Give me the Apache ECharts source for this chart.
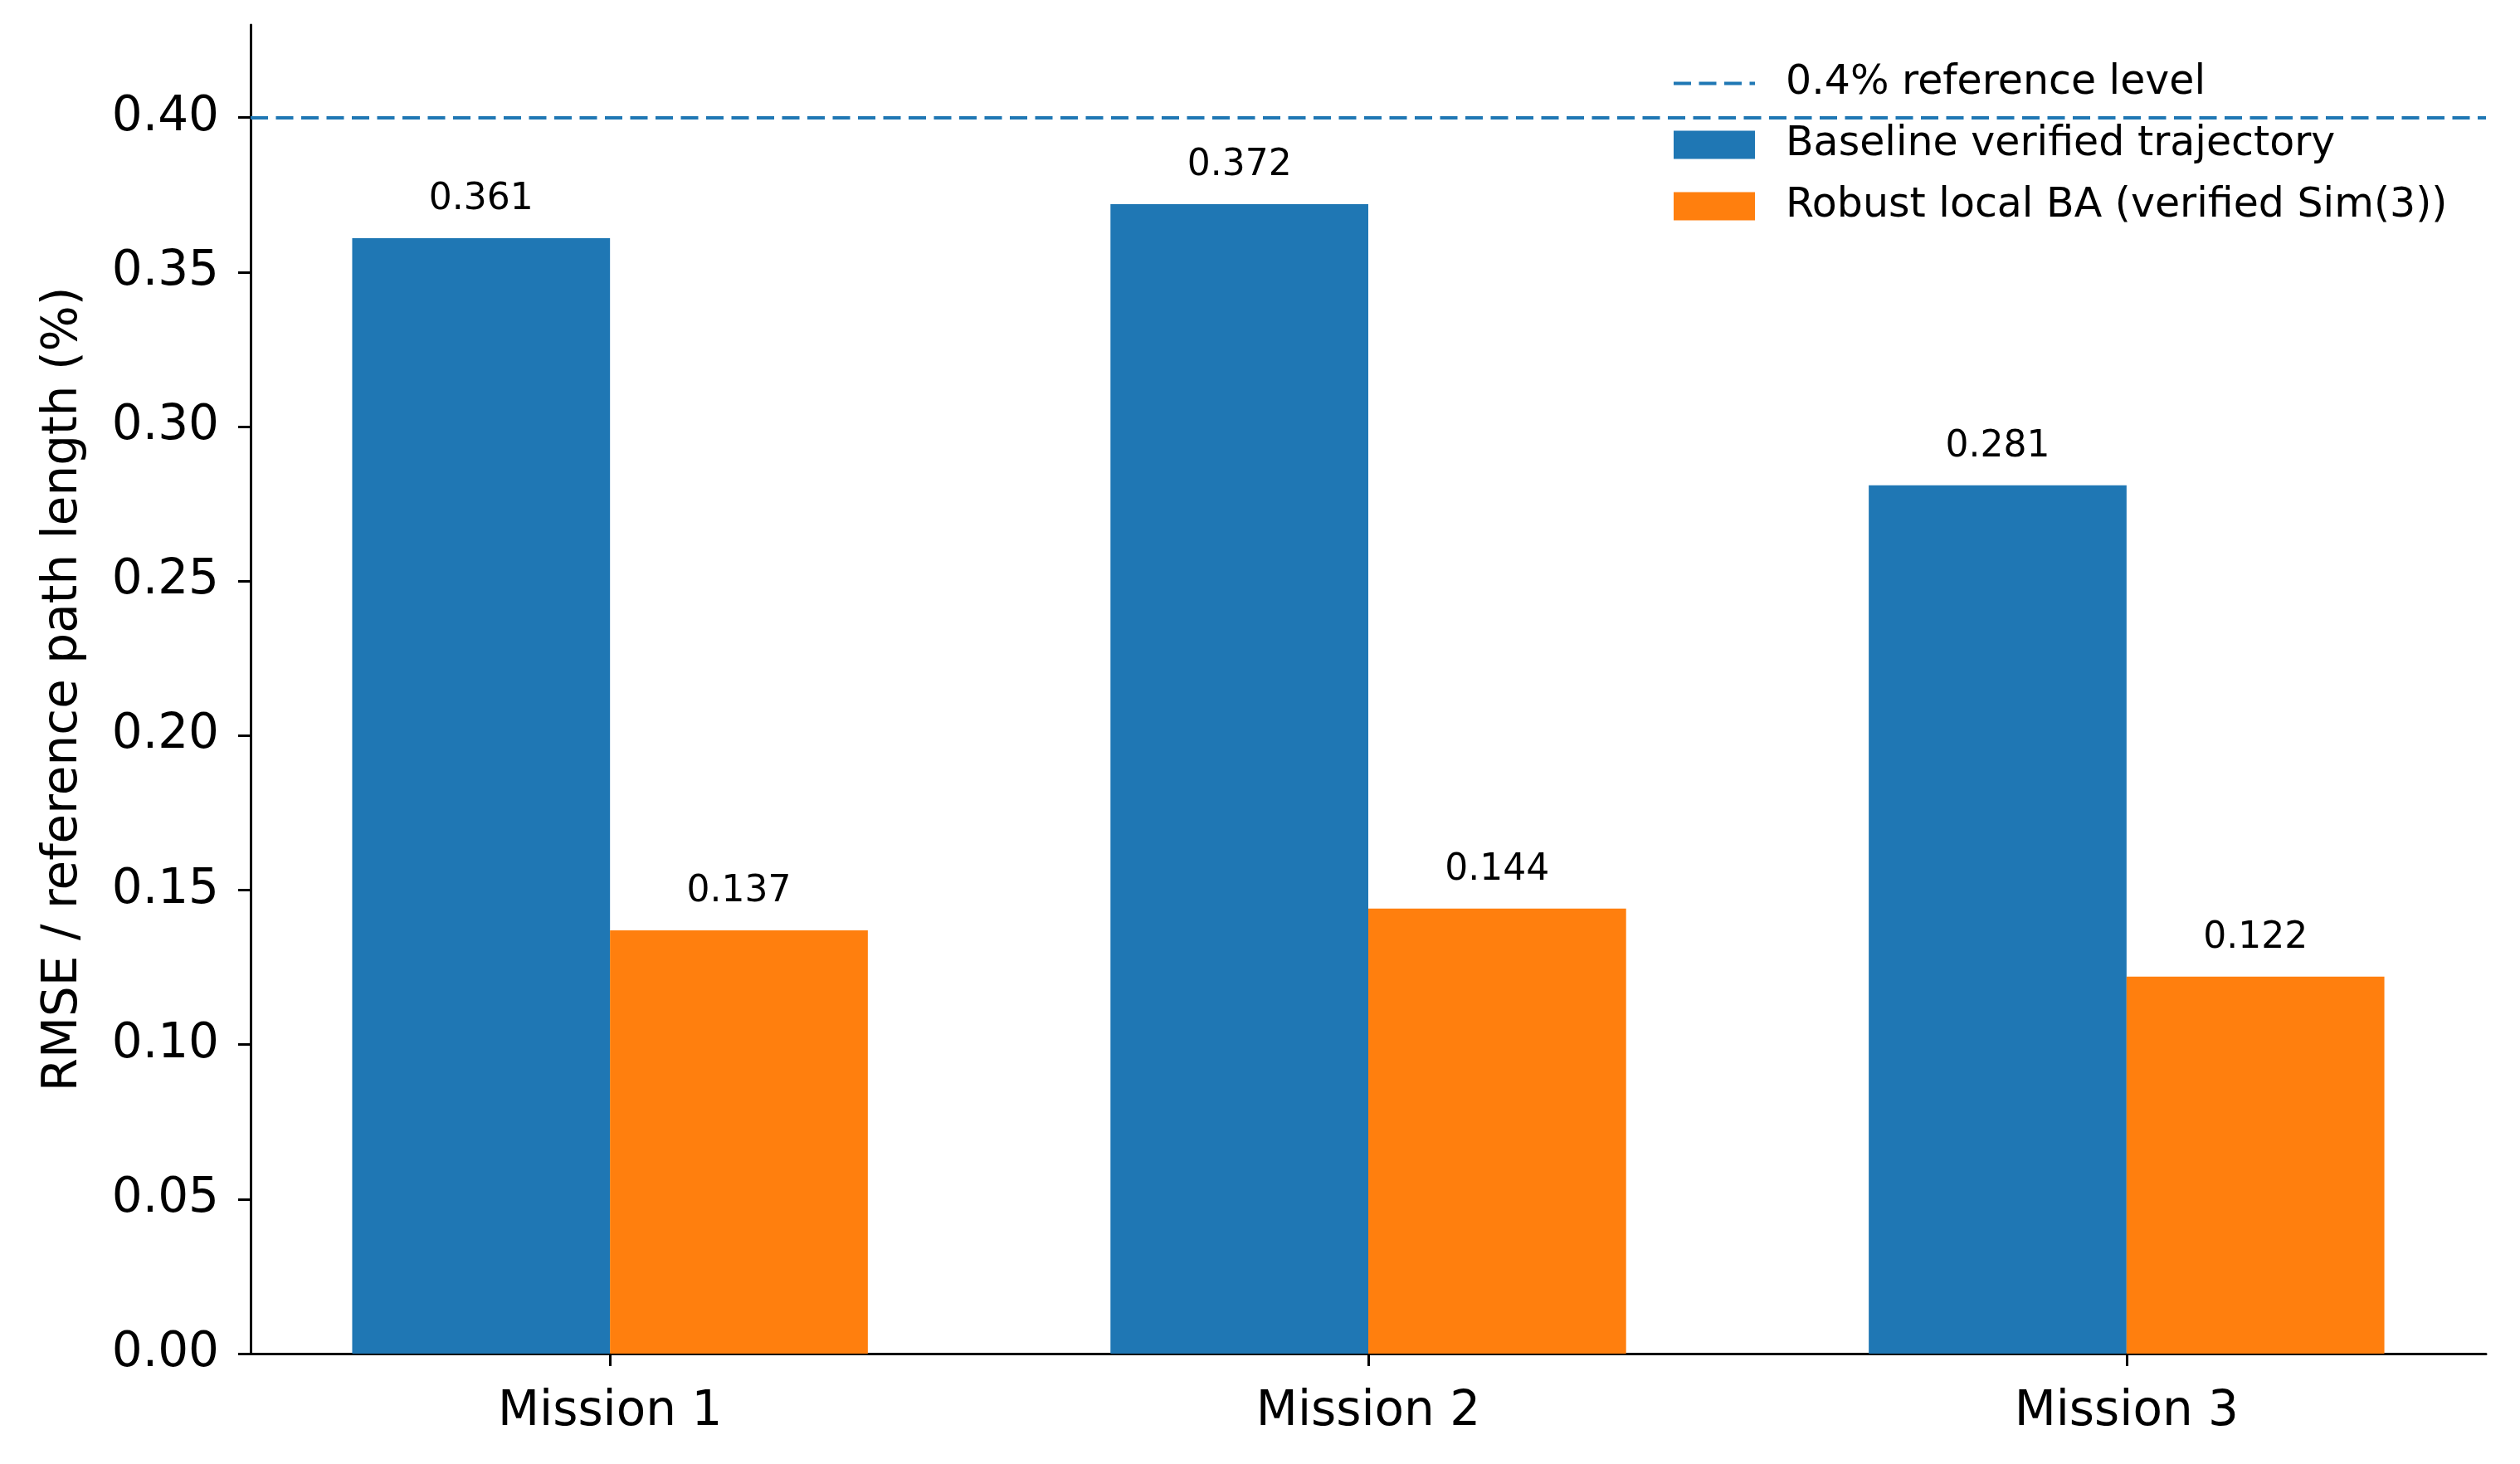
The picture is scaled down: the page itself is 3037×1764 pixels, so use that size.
<!DOCTYPE html>
<html>
<head>
<meta charset="utf-8">
<script src="https://cdn.jsdelivr.net/npm/echarts@6/dist/echarts.min.js"></script>
<style>
  html, body { margin: 0; padding: 0; background: #fff; }
  #chart { width: 3037px; height: 1764px; }
</style>
</head>
<body>
<div id="chart"></div>
<script>
// data
var categories = ['Mission 1', 'Mission 2', 'Mission 3'];
var baseline = [0.361, 0.372, 0.281];
var robust = [0.137, 0.144, 0.122];
var refLevel = 0.4;
var yTicks = [0, 0.05, 0.10, 0.15, 0.20, 0.25, 0.30, 0.35, 0.40];
var xTicks = [0, 1, 2];

var names = ['0.4% reference level', 'Baseline verified trajectory', 'Robust local BA (verified Sim(3))'];
var font = 'DejaVu Sans';
var dash = {color: '#1f77b4', width: 4, type: [21, 9.5]};

var chart = echarts.init(document.getElementById('chart'));

//柱子的标签
function barLabel() {
    return {
        show: true,
        position: 'top',
        distance: 24,
        color: '#000',
        fontFamily: font,
        fontSize: 44,
        lineHeight: 44,
        formatter: function (p) {
            return p.value[1].toFixed(3);
        }
    };
}

var option = {
    backgroundColor: '#fff',
    animation: false,
    grid: {
        left: 302,
        right: 41,
        top: 30,
        bottom: 133
    },
    legend: {
        orient: 'vertical',
        left: 2010,
        top: 71,
        itemWidth: 98,
        itemHeight: 34,
        itemGap: 25,
        textStyle: {
            color: '#000',
            fontFamily: font,
            fontSize: 49,
            lineHeight: 49,
            padding: [0, 0, 0, 32]
        },
        data: [
            {name: names[0], itemStyle: {opacity: 0}, lineStyle: dash},
            {name: names[1], icon: 'rect'},
            {name: names[2], icon: 'rect'}
        ]
    },
    xAxis: {
        type: 'value',
        min: -0.474,
        max: 2.474,
        splitLine: {show: false},
        axisLine: {show: true, onZero: false, lineStyle: {color: '#000', width: 3}},
        axisTick: {
            show: true,
            length: 15,
            customValues: xTicks,
            lineStyle: {color: '#000', width: 3}
        },
        axisLabel: {
            customValues: xTicks,
            margin: 42,
            color: '#000',
            fontFamily: font,
            fontSize: 58,
            formatter: function (v) {
                return categories[Math.round(v)];
            }
        }
    },
    yAxis: {
        type: 'value',
        min: 0,
        max: 0.43,
        name: 'RMSE / reference path length (%)',
        nameLocation: 'middle',
        nameGap: 196,
        nameTextStyle: {
            color: '#000',
            fontFamily: font,
            fontSize: 58,
            lineHeight: 58
        },
        splitLine: {show: false},
        axisLine: {show: true, onZero: false, lineStyle: {color: '#000', width: 3}},
        axisTick: {
            show: true,
            length: 15,
            customValues: yTicks,
            lineStyle: {color: '#000', width: 3}
        },
        axisLabel: {
            customValues: yTicks,
            margin: 38,
            padding: [10, 0, 0, 0],
            color: '#000',
            fontFamily: font,
            fontSize: 58,
            formatter: function (v) {
                return v.toFixed(2);
            }
        }
    },
    series: [
        {
            name: names[0],
            type: 'line',
            data: [],
            symbol: 'none',
            lineStyle: dash,
            itemStyle: {color: '#1f77b4'},
            markLine: {
                silent: true,
                symbol: ['none', 'none'],
                label: {show: false},
                lineStyle: dash,
                data: [{yAxis: refLevel}]
            }
        },
        {
            name: names[1],
            type: 'bar',
            barWidth: '34%',
            barGap: '0%',
            itemStyle: {color: '#1f77b4'},
            label: barLabel(),
            data: baseline.map(function (v, i) { return [i, v]; })
        },
        {
            name: names[2],
            type: 'bar',
            barWidth: '34%',
            barGap: '0%',
            itemStyle: {color: '#ff7f0e'},
            label: barLabel(),
            data: robust.map(function (v, i) { return [i, v]; })
        }
    ]
};
chart.setOption(option);
</script>
</body>
</html>
